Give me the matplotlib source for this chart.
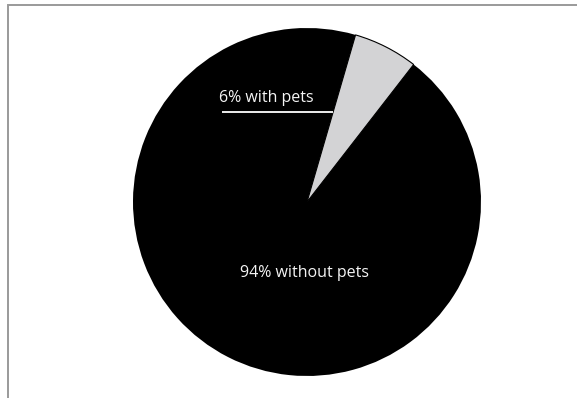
import numpy as np
import matplotlib
matplotlib.use("Agg")
import matplotlib.pyplot as plt
from matplotlib.patches import Rectangle

# Share of households
labels = ["6% with pets", "94% without pets"]
shares = [6, 94]
colors = ["#d3d3d5", "#000000"]

W, H = 577, 398
fig = plt.figure(figsize=(W / 100, H / 100), dpi=100)
ax = fig.add_axes([0, 0, 1, 1])
ax.set_xlim(0, W)
ax.set_ylim(0, H)
ax.set_aspect("equal")
ax.axis("off")

cx, cy, r = 307, 196, 174
start = 73.8  # degrees, pie drawn clockwise from here

wedges, _ = ax.pie(shares, colors=colors, startangle=start, counterclock=False,
                   center=(cx, cy), radius=r, frame=True,
                   wedgeprops=dict(edgecolor="none"))
ax.set_xlim(0, W)
ax.set_ylim(0, H)
ax.axis("off")
# thin dark rim over the small slice
wedges[0].set_edgecolor("#000000")
wedges[0].set_linewidth(0.8)

font = ["Open Sans", "DejaVu Sans"]

# label + leader for the small slice
ax.text(219, 300, labels[0], color="#f4f4f4", fontsize=11.5, family=font,
        ha="left", va="center")
ly = 286
ang = np.deg2rad(start)
lx_end = cx + (ly - cy) / np.tan(ang)
ax.plot([222, lx_end], [ly, ly], color="white", lw=1.3, solid_capstyle="butt")

# label for the large slice
ax.text(304, 125, labels[1], color="#f4f4f4", fontsize=11.5, family=font,
        ha="center", va="center")

# frame
ax.add_patch(Rectangle((8, -20), 600, 413, fill=False, edgecolor="#9a9a9a",
                       lw=1.4, clip_on=False))

fig.savefig("out.png", dpi=100)
